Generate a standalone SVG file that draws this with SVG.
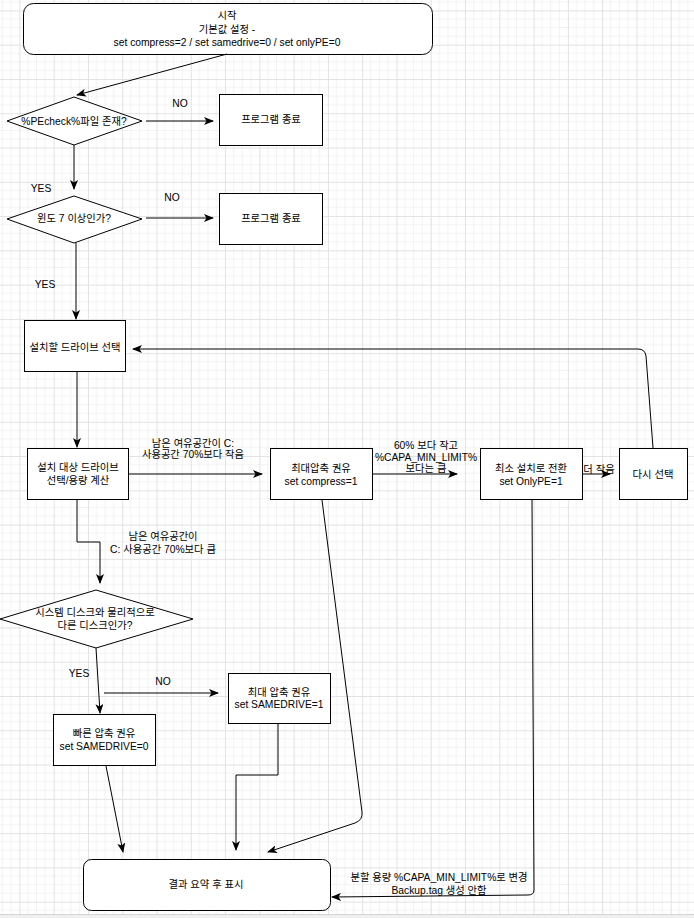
<svg xmlns="http://www.w3.org/2000/svg" width="694" height="918" viewBox="0 0 694 918">
<defs>
<pattern id="grid" x="19.4" y="10.4" width="34.28" height="34.28" patternUnits="userSpaceOnUse">
<path d="M8.57,0 V34.28 M17.14,0 V34.28 M25.71,0 V34.28 M0,8.57 H34.28 M0,17.14 H34.28 M0,25.71 H34.28" stroke="#f2f2f2" stroke-width="1" fill="none"/>
<path d="M0.5,0 V34.28 M0,0.5 H34.28" stroke="#e2e2e2" stroke-width="1" fill="none"/>
</pattern>
<marker id="arr" viewBox="0 0 10 8" refX="9" refY="4" markerWidth="10" markerHeight="8" markerUnits="userSpaceOnUse" orient="auto">
<path d="M0,0 L10,4 L0,8 L2.5,4 Z" fill="#000"/>
</marker>
</defs>
<style>
.n{fill:#fff;stroke:#000;stroke-width:1}
.t{font-family:"Liberation Sans","Noto Sans CJK KR",sans-serif;font-size:10.3px;fill:#000;text-anchor:middle}
.c path{fill:none;stroke:#000;stroke-width:1;marker-end:url(#arr)}
</style>
<rect width="694" height="918" fill="#fff"/>
<rect width="694" height="914" fill="url(#grid)"/>
<rect x="0" y="914.5" width="694" height="4" fill="#f0f0f0"/>
<line x1="0" y1="914.5" x2="694" y2="914.5" stroke="#d4d4d4"/>

<g id="start">
<rect class="n" x="23.5" y="3.5" width="409" height="51" rx="10"/>
<text class="t" x="227" y="19">시작</text>
<text class="t" x="227" y="33">기본값 설정 -</text>
<text class="t" x="227" y="46">set compress=2 / set samedrive=0 / set onlyPE=0</text>
</g>
<g id="d1">
<polygon class="n" points="74,97 142,121 74,145 7,121"/>
<text class="t" x="74" y="125">%PEcheck%파일 존재?</text>
</g>
<g id="end1">
<rect class="n" x="219.5" y="94.5" width="103" height="51"/>
<text class="t" x="271" y="123">프로그램 종료</text>
</g>
<g id="d2">
<polygon class="n" points="74,196 142,219 74,243 7,219"/>
<text class="t" x="74" y="222">윈도 7 이상인가?</text>
</g>
<g id="end2">
<rect class="n" x="219.5" y="193.5" width="103" height="51"/>
<text class="t" x="271" y="222">프로그램 종료</text>
</g>
<g id="selectDrive">
<rect class="n" x="24.5" y="320.5" width="101" height="51"/>
<text class="t" x="75" y="351">설치할 드라이브 선택</text>
</g>
<g id="calc">
<rect class="n" x="27.5" y="448.5" width="101" height="51"/>
<text class="t" x="78" y="471">설치 대상 드라이브</text>
<text class="t" x="78" y="484">선택/용량 계산</text>
</g>
<g id="maxCompress">
<rect class="n" x="270.5" y="448.5" width="102" height="51"/>
<text class="t" x="321" y="472">최대압축 권유</text>
<text class="t" x="321" y="485">set compress=1</text>
</g>
<g id="minInstall">
<rect class="n" x="480.5" y="448.5" width="102" height="51"/>
<text class="t" x="531" y="472">최소 설치로 전환</text>
<text class="t" x="531" y="485">set OnlyPE=1</text>
</g>
<g id="reselect">
<rect class="n" x="619.5" y="448.5" width="68" height="51"/>
<text class="t" x="653" y="478">다시 선택</text>
</g>
<g id="d3">
<polygon class="n" points="96,590 193,619 96,648 0,619"/>
<text class="t" x="95" y="616">시스템 디스크와 물리적으로</text>
<text class="t" x="95" y="629">다른 디스크인가?</text>
</g>
<g id="sameDrive1">
<rect class="n" x="228.5" y="673.5" width="102" height="50"/>
<text class="t" x="279" y="696">최대 압축 권유</text>
<text class="t" x="279" y="708">set SAMEDRIVE=1</text>
</g>
<g id="sameDrive0">
<rect class="n" x="53.5" y="714.5" width="102" height="51"/>
<text class="t" x="104" y="737">빠른 압축 권유</text>
<text class="t" x="104" y="750">set SAMEDRIVE=0</text>
</g>
<g id="result">
<rect class="n" x="83.5" y="859.5" width="247" height="51" rx="8"/>
<text class="t" x="206" y="888">결과 요약 후 표시</text>
</g>

<g id="connectors" class="c">
<path d="M227,54 L77,95"/>
<path d="M146,121 L213,121"/>
<path d="M74,145 L74,189"/>
<path d="M146,218 L213,218"/>
<path d="M76,243 L76,319"/>
<path d="M77,372 L77,447"/>
<path d="M128,474 L262,474"/>
<path d="M372,474 L457,474"/>
<path d="M583,474 L610,474"/>
<path d="M653,448 L646,356 Q645,349 638,349 L133,349"/>
<path d="M77,500 L77,542 L100,542 L100,583"/>
<path d="M96,648 L100,713"/>
<path d="M104,693 L218,693"/>
<path d="M106,766 L123,852"/>
<path d="M278,723 L278,775 L236,775 L236,850"/>
<path d="M322,500 L362,812 Q363,820 355,823 L268,852"/>
<path d="M532,500 L534,890 Q534,895 528,895 L332,897"/>
</g>

<g id="labels">
<text class="t" x="180" y="107">NO</text>
<text class="t" x="41" y="192">YES</text>
<text class="t" x="172" y="201">NO</text>
<text class="t" x="45" y="288">YES</text>
<text class="t" x="193" y="447">남은 여유공간이 C:</text>
<text class="t" x="193" y="458">사용공간 70%보다 작음</text>
<text class="t" x="426" y="449">60% 보다 작고</text>
<text class="t" x="426" y="461">%CAPA_MIN_LIMIT%</text>
<text class="t" x="426" y="472">보다는 큼</text>
<text class="t" x="599" y="473">더 작음</text>
<text class="t" x="163" y="540">남은 여유공간이</text>
<text class="t" x="163" y="553">C: 사용공간 70%보다 큼</text>
<text class="t" x="79" y="677">YES</text>
<text class="t" x="163" y="685">NO</text>
<text class="t" x="439" y="881">분할 용량 %CAPA_MIN_LIMIT%로 변경</text>
<text class="t" x="439" y="894">Backup.tag 생성 안함</text>
</g>
</svg>
